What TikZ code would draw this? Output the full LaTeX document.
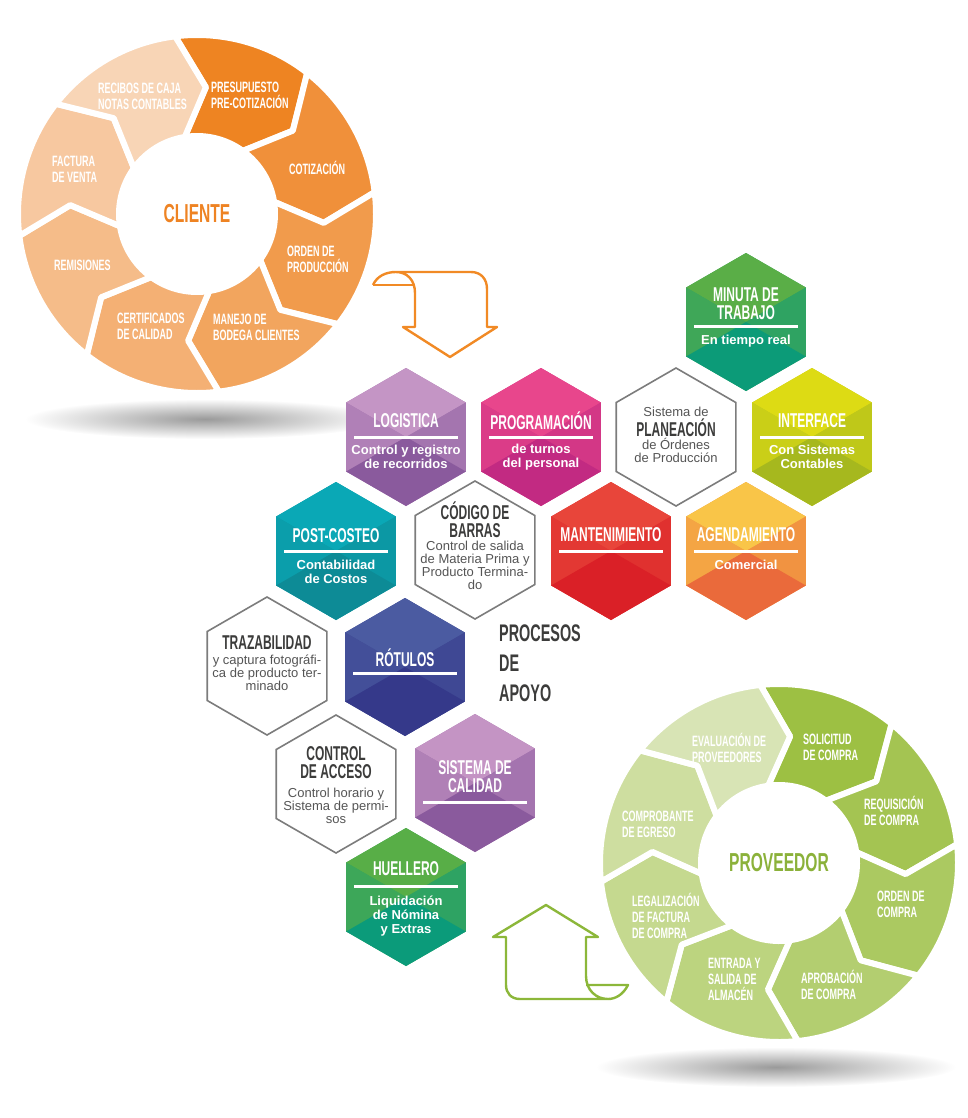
\documentclass[tikz,border=0pt]{standalone}
\usepackage{fontspec}
\setmainfont{Liberation Sans}
\newfontfamily\condfont[FakeStretch=0.6]{Liberation Sans}

% circle colours
\definecolor{cliorange}{HTML}{EE8323}
\definecolor{clA}{HTML}{EE8422}
\definecolor{clB}{HTML}{F0903A}
\definecolor{clC}{HTML}{F19B4C}
\definecolor{clD}{HTML}{F2A55E}
\definecolor{clE}{HTML}{F4B074}
\definecolor{clF}{HTML}{F5BC89}
\definecolor{clG}{HTML}{F7C8A0}
\definecolor{clH}{HTML}{F8D5B6}
\definecolor{provgreen}{HTML}{8BB13A}
\definecolor{prA}{HTML}{9DC043}
\definecolor{prB}{HTML}{A4C452}
\definecolor{prC}{HTML}{ABC961}
\definecolor{prD}{HTML}{B3CE70}
\definecolor{prE}{HTML}{BCD47F}
\definecolor{prF}{HTML}{C5D98F}
\definecolor{prG}{HTML}{CEDEA0}
\definecolor{prH}{HTML}{D8E4B5}
% hexagon colours
\definecolor{minTop}{HTML}{5AAE47}
\definecolor{minBot}{HTML}{0C9B78}
\definecolor{logTop}{HTML}{C495C5}
\definecolor{logBot}{HTML}{8A5A9D}
\definecolor{progTop}{HTML}{E8468C}
\definecolor{progBot}{HTML}{C22A82}
\definecolor{interTop}{HTML}{DDDB14}
\definecolor{interBot}{HTML}{A6B81E}
\definecolor{postTop}{HTML}{0AA8B6}
\definecolor{postBot}{HTML}{0D8B96}
\definecolor{mantTop}{HTML}{E8453A}
\definecolor{mantBot}{HTML}{DA2027}
\definecolor{agenTop}{HTML}{F9C548}
\definecolor{agenBot}{HTML}{EA6A3B}
\definecolor{rotTop}{HTML}{4B5BA1}
\definecolor{rotBot}{HTML}{35398A}
\definecolor{calTop}{HTML}{C494C4}
\definecolor{calBot}{HTML}{8A5A9D}
\definecolor{hueTop}{HTML}{58AE47}
\definecolor{hueBot}{HTML}{0B9B7A}
\definecolor{hexgrey}{HTML}{7C7C7C}
\definecolor{titlegrey}{HTML}{3C3C3B}
\definecolor{bodygrey}{HTML}{555555}
\definecolor{shadowgrey}{HTML}{9A9A9A}
\definecolor{arroworange}{HTML}{F18A25}
\definecolor{arrowgreen}{HTML}{8CB73A}

\tikzset{
  segcut/.style={draw=white, line width=6pt, line join=round},
  seglabel/.style={text=white, font=\condfont\bfseries\fontsize{15}{16}\selectfont, align=left, anchor=west, inner sep=0pt},
  hubtitle/.style={font=\condfont\bfseries\fontsize{26}{28}\selectfont, inner sep=0pt},
  hextitle/.style={text=white, font=\condfont\bfseries\fontsize{20}{18}\selectfont, align=center, inner sep=0pt},
  hexsub/.style={text=white, font=\bfseries\fontsize{13}{14}\selectfont, align=center, inner sep=0pt},
  hexbar/.style={draw=white, line width=3pt},
  hexborder/.style={draw=hexgrey, fill=white, line width=1.6pt},
  greytitle/.style={hextitle, text=titlegrey},
  greybody/.style={text=bodygrey, font=\fontsize{13}{13}\selectfont, align=center, inner sep=0pt},
  turnarrow/.style={line width=2.4pt, line join=round},
}

% coloured hexagon: name, centre, top colour, bottom colour
\newcommand{\hexfill}[4]{%
  \begin{scope}[shift={#2}]
    \fill[#3!50!#4] (0,69) -- (59.8,34.5) -- (59.8,-34.5) -- (0,-69) -- (-59.8,-34.5) -- (-59.8,34.5) -- cycle;
    \fill[#3] (0,0) -- (-59.8,34.5) -- (0,69) -- (59.8,34.5) -- cycle;
    \fill[#3!45!#4] (0,0) -- (59.8,34.5) -- (59.8,-34.5) -- cycle;
    \fill[#3!65!#4] (0,0) -- (-59.8,-34.5) -- (-59.8,34.5) -- cycle;
    \fill[#4] (0,0) -- (59.8,-34.5) -- (0,-69) -- (-59.8,-34.5) -- cycle;
  \end{scope}
  \coordinate (#1) at #2;}
% outlined hexagon: name, centre
\newcommand{\hexline}[2]{%
  \draw[hexborder, shift={#2}] (0,69) -- (59.8,34.5) -- (59.8,-34.5) -- (0,-69) -- (-59.8,-34.5) -- (-59.8,34.5) -- cycle;
  \coordinate (#1) at #2;}

\begin{document}
\begin{tikzpicture}[x=1pt, y=1pt]
  \useasboundingbox (0,0) rectangle (967,-1118);

  % shadows
  \shade[inner color=shadowgrey, outer color=white] (205,-419) ellipse[x radius=180, y radius=20];
  \shade[inner color=shadowgrey, outer color=white] (776,-1067) ellipse[x radius=180, y radius=20];

  % cliente wheel
  \begin{scope}[shift={(197,-214)}]
    \foreach \a/\c in {97/clA, 52/clB, 7/clC, -38/clD, -83/clE, -128/clF, -173/clG, -218/clH}
      \filldraw[fill=\c, segcut] (\a:179) arc[start angle=\a, end angle=\a-45, radius=179]
        -- (\a-56:127) -- (\a-43:78) arc[start angle=\a-43, end angle=\a+2, radius=78]
        -- (\a-11:127) -- cycle;
    \node[hubtitle, text=cliorange] (cliente) at (0,0) {CLIENTE};
  \end{scope}

  \begin{scope}[every node/.style={seglabel}]
    \node (presup) at (211,-95.5) {PRESUPUESTO\\PRE-COTIZACIÓN};
    \node (cotiz) at (289,-168) {COTIZACIÓN};
    \node (orden) at (287,-259.5) {ORDEN DE\\PRODUCCIÓN};
    \node (bodega) at (213,-327.5) {MANEJO DE\\BODEGA CLIENTES};
    \node (certif) at (117,-326) {CERTIFICADOS\\DE CALIDAD};
    \node (remis) at (54,-265) {REMISIONES};
    \node (factura) at (52,-169) {FACTURA\\DE VENTA};
    \node (recibos) at (98,-96) {RECIBOS DE CAJA\\NOTAS CONTABLES};
  \end{scope}

  % proveedor wheel
  \begin{scope}[shift={(779,-863)}]
    \foreach \a/\c in {96/prA, 51/prB, 6/prC, -39/prD, -84/prE, -129/prF, -174/prG, -219/prH}
      \filldraw[fill=\c, segcut] (\a:179) arc[start angle=\a, end angle=\a-45, radius=179]
        -- (\a-56:127) -- (\a-43:78) arc[start angle=\a-43, end angle=\a+2, radius=78]
        -- (\a-11:127) -- cycle;
    \node[hubtitle, text=provgreen] (proveedor) at (0,0) {PROVEEDOR};
  \end{scope}

  \begin{scope}[every node/.style={seglabel}]
    \node (solic) at (803,-747) {SOLICITUD\\DE COMPRA};
    \node (requis) at (864,-810.5) {REQUISICIÓN\\DE COMPRA};
    \node (ordenc) at (877,-904.5) {ORDEN DE\\COMPRA};
    \node (aprob) at (801,-985) {APROBACIÓN\\DE COMPRA};
    \node (almacen) at (708,-979) {ENTRADA Y\\SALIDA DE\\ALMACÉN};
    \node (legal) at (632,-916) {LEGALIZACIÓN\\DE FACTURA\\DE COMPRA};
    \node (egreso) at (622,-824) {COMPROBANTE\\DE EGRESO};
    \node (evalua) at (692,-747.5) {EVALUACIÓN DE\\PROVEEDORES};
  \end{scope}

  % turning arrows
  \draw[turnarrow, arroworange] (373,-285) .. controls (377,-276) and (386,-272) .. (396,-272)
    -- (471,-272) .. controls (481,-272) and (487,-279) .. (487,-289) -- (487,-327) -- (497,-327)
    -- (450,-357) -- (403,-327) -- (415,-327) -- (415,-293)
    .. controls (415,-280) and (407,-272) .. (396,-272);
  \draw[turnarrow, arroworange] (373,-285) -- (414,-285);

  \draw[turnarrow, arrowgreen] (546,-905) -- (598,-937) -- (586,-937) -- (586,-976)
    .. controls (586,-990) and (596,-999) .. (608,-999) -- (520,-999)
    .. controls (511,-999) and (506,-993) .. (506,-985) -- (506,-937) -- (493,-937) -- cycle;
  \draw[turnarrow, arrowgreen] (586,-985) -- (628,-985) .. controls (623,-995) and (615,-999) .. (608,-999);

  % hexagons
  \hexfill{min}{(746,-322)}{minTop}{minBot}
  \hexfill{log}{(406,-437)}{logTop}{logBot}
  \hexfill{prog}{(541,-437)}{progTop}{progBot}
  \hexline{plan}{(676,-437)}
  \hexfill{inter}{(812,-437)}{interTop}{interBot}
  \hexfill{post}{(336,-551)}{postTop}{postBot}
  \hexline{cod}{(475,-550)}
  \hexfill{mant}{(611,-551)}{mantTop}{mantBot}
  \hexfill{agen}{(746,-551)}{agenTop}{agenBot}
  \hexline{traz}{(267,-666)}
  \hexfill{rot}{(405,-667)}{rotTop}{rotBot}
  \hexline{acc}{(336,-784)}
  \hexfill{cal}{(475,-783)}{calTop}{calBot}
  \hexfill{hue}{(406,-897)}{hueTop}{hueBot}

  % coloured hexagon texts
  \node[hextitle] (minT) at ([yshift=18pt]min) {MINUTA DE\\TRABAJO};
  \draw[hexbar] ([shift={(-52pt,-4pt)}]min) -- ([shift={(52pt,-4pt)}]min);
  \node[hexsub] (minS) at ([yshift=-19pt]min) {En tiempo real};

  \node[hextitle] (logT) at ([yshift=16pt]log) {LOGISTICA};
  \draw[hexbar] ([xshift=-52pt]log) -- ([xshift=52pt]log);
  \node[hexsub] (logS) at ([yshift=-20pt]log) {Control y registro\\de recorridos};

  \node[hextitle] (progT) at ([yshift=16pt]prog) {PROGRAMACIÓN};
  \draw[hexbar] ([xshift=-52pt]prog) -- ([xshift=52pt]prog);
  \node[hexsub] (progS) at ([yshift=-20pt]prog) {de turnos\\del personal};

  \node[hextitle] (interT) at ([yshift=16pt]inter) {INTERFACE};
  \draw[hexbar] ([xshift=-52pt]inter) -- ([xshift=52pt]inter);
  \node[hexsub] (interS) at ([yshift=-20pt]inter) {Con Sistemas\\Contables};

  \node[hextitle] (postT) at ([yshift=15pt]post) {POST-COSTEO};
  \draw[hexbar] ([xshift=-52pt]post) -- ([xshift=52pt]post);
  \node[hexsub] (postS) at ([yshift=-21pt]post) {Contabilidad\\de Costos};

  \node[hextitle] (mantT) at ([yshift=16pt]mant) {MANTENIMIENTO};
  \draw[hexbar] ([xshift=-52pt]mant) -- ([xshift=52pt]mant);

  \node[hextitle] (agenT) at ([yshift=16pt]agen) {AGENDAMIENTO};
  \draw[hexbar] ([xshift=-52pt]agen) -- ([xshift=52pt]agen);
  \node[hexsub] (agenS) at ([yshift=-14pt]agen) {Comercial};

  \node[hextitle] (rotT) at ([yshift=9pt]rot) {RÓTULOS};
  \draw[hexbar] ([shift={(-52pt,-6pt)}]rot) -- ([shift={(52pt,-6pt)}]rot);

  \node[hextitle] (calT) at ([yshift=6.5pt]cal) {SISTEMA DE\\CALIDAD};
  \draw[hexbar] ([shift={(-52pt,-19pt)}]cal) -- ([shift={(52pt,-19pt)}]cal);

  \node[hextitle] (hueT) at ([yshift=28pt]hue) {HUELLERO};
  \draw[hexbar] ([shift={(-52pt,11pt)}]hue) -- ([shift={(52pt,11pt)}]hue);
  \node[hexsub] (hueS) at ([yshift=-19pt]hue) {Liquidación\\de Nómina\\y Extras};

  % outlined hexagon texts
  \node[greybody] (planA) at ([yshift=25pt]plan) {Sistema de};
  \node[greytitle] (planT) at ([yshift=9pt]plan) {PLANEACIÓN};
  \node[greybody] (planB) at ([yshift=-13pt]plan) {de Órdenes\\de Producción};

  \node[greytitle] (codT) at ([yshift=30.5pt]cod) {CÓDIGO DE\\BARRAS};
  \node[greybody] (codB) at ([yshift=-15pt]cod) {Control de salida\\de Materia Prima y\\Producto Termina-\\do};

  \node[greytitle] (trazT) at ([yshift=23pt]traz) {TRAZABILIDAD};
  \node[greybody] (trazB) at ([yshift=-7pt]traz) {y captura fotográfi-\\ca de producto ter-\\minado};

  \node[greytitle] (accT) at ([yshift=21pt]acc) {CONTROL\\DE ACCESO};
  \node[greybody] (accB) at ([yshift=-22pt]acc) {Control horario y\\Sistema de permi-\\sos};

  % centre caption
  \node[text=titlegrey, font=\condfont\bfseries\fontsize{24}{30}\selectfont, align=left, anchor=west, inner sep=0pt]
    (apoyo) at (499,-663) {PROCESOS\\DE\\APOYO};
\end{tikzpicture}
\end{document}
